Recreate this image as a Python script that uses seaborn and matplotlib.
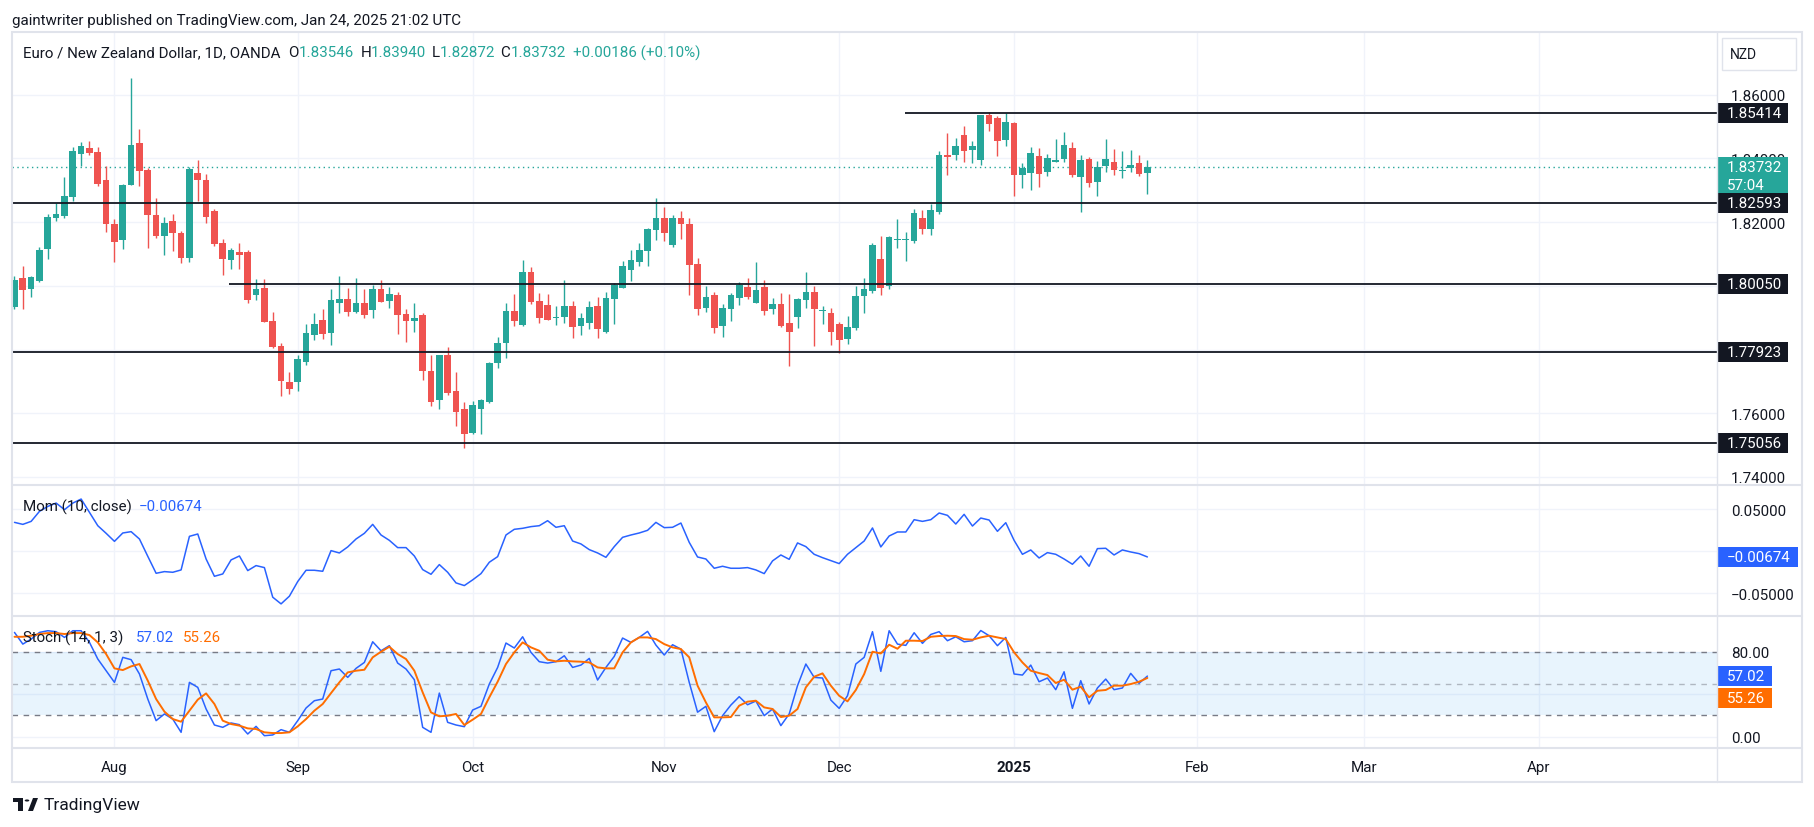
import numpy as np
import pandas as pd
import seaborn as sns
import matplotlib.pyplot as plt
import matplotlib.transforms as mtransforms
from matplotlib.patches import Rectangle, Circle, Polygon
from matplotlib.lines import Line2D

# EUR/NZD daily candles, 16 Jul 2024 -> 24 Jan 2025
opens = [1.7935, 1.8025, 1.7991, 1.8016, 1.8117, 1.8214, 1.8220, 1.8280, 1.8415, 1.8433,
         1.8420, 1.8332, 1.8195, 1.8145, 1.8318, 1.8448, 1.8364, 1.8223, 1.8157, 1.8203,
         1.8166, 1.8088, 1.8354, 1.8332, 1.8235, 1.8134, 1.8082, 1.8106, 1.8106, 1.7972,
         1.7993, 1.7890, 1.7811, 1.7698, 1.7699, 1.7762, 1.7847, 1.7893, 1.7853, 1.7947,
         1.7959, 1.7918, 1.7946, 1.7925, 1.7990, 1.7953, 1.7971, 1.7911, 1.7891, 1.7908,
         1.7733, 1.7642, 1.7783, 1.7670, 1.7613, 1.7539, 1.7614, 1.7636, 1.7759, 1.7821,
         1.7921, 1.7878, 1.8043, 1.7952, 1.7940, 1.7898, 1.7903, 1.7937, 1.7875, 1.7884,
         1.7937, 1.7856, 1.7960, 1.7994, 1.8051, 1.8076, 1.8110, 1.8175, 1.8213, 1.8128,
         1.8213, 1.8194, 1.8068, 1.7931, 1.7971, 1.7875, 1.7928, 1.7963, 1.7996, 1.7947,
         1.7996, 1.7928, 1.7943, 1.7883, 1.7903, 1.7956, 1.7981, 1.7922, 1.7915, 1.7880,
         1.7834, 1.7869, 1.7969, 1.7985, 1.8084, 1.8000, 1.8145, 1.8145, 1.8142, 1.8213,
         1.8179, 1.8232, 1.8411, 1.8411, 1.8474, 1.8426, 1.8395, 1.8536, 1.8527, 1.8458,
         1.8511, 1.8348, 1.8354, 1.8408, 1.8357, 1.8389, 1.8398, 1.8433, 1.8342, 1.8398,
         1.8326, 1.8376, 1.8389, 1.8360, 1.8370, 1.8386, 1.83546]
highs = [1.8031, 1.8062, 1.8032, 1.8122, 1.8225, 1.8260, 1.8342, 1.8436, 1.8452, 1.8455,
         1.8436, 1.8376, 1.8210, 1.8320, 1.8652, 1.8492, 1.8371, 1.8276, 1.8216, 1.8225,
         1.8172, 1.8373, 1.8395, 1.8351, 1.8241, 1.8147, 1.8119, 1.8134, 1.8112, 1.8021,
         1.8021, 1.7918, 1.7820, 1.7729, 1.7784, 1.7880, 1.7915, 1.7927, 1.7990, 1.8031,
         1.7993, 1.8024, 1.7990, 1.8003, 1.8018, 1.7996, 1.7981, 1.7927, 1.7946, 1.7915,
         1.7783, 1.7783, 1.7808, 1.7729, 1.7635, 1.7638, 1.7645, 1.7761, 1.7839, 1.7946,
         1.7974, 1.8081, 1.8059, 1.7977, 1.7974, 1.7937, 1.8018, 1.7952, 1.7915, 1.7952,
         1.7965, 1.7981, 1.8009, 1.8078, 1.8112, 1.8134, 1.8182, 1.8276, 1.8247, 1.8222,
         1.8235, 1.8213, 1.8087, 1.7999, 1.7981, 1.7943, 1.7977, 1.8012, 1.8025, 1.8075,
         1.8018, 1.7962, 1.7977, 1.7975, 1.7962, 1.8043, 1.7999, 1.7937, 1.7930, 1.7886,
         1.7905, 1.7999, 1.8025, 1.8134, 1.8156, 1.8156, 1.8210, 1.8169, 1.8241, 1.8238,
         1.8257, 1.8423, 1.8480, 1.8464, 1.8502, 1.8455, 1.8536, 1.8546, 1.8533, 1.8543,
         1.8514, 1.8386, 1.8436, 1.8433, 1.8414, 1.8461, 1.8483, 1.8452, 1.8411, 1.8404,
         1.8392, 1.8461, 1.8430, 1.8423, 1.8426, 1.8411, 1.83940]
lows = [1.7927, 1.7927, 1.7965, 1.8013, 1.8084, 1.8205, 1.8213, 1.8266, 1.8376, 1.8411,
        1.8314, 1.8169, 1.8075, 1.8116, 1.8317, 1.8313, 1.8119, 1.8150, 1.8097, 1.8109,
        1.8072, 1.8075, 1.8266, 1.8197, 1.8126, 1.8034, 1.8053, 1.8053, 1.7947, 1.7957,
        1.7887, 1.7806, 1.7655, 1.7661, 1.7671, 1.7752, 1.7831, 1.7834, 1.7815, 1.7916,
        1.7906, 1.7916, 1.7900, 1.7900, 1.7950, 1.7931, 1.7850, 1.7825, 1.7856, 1.7705,
        1.7624, 1.7614, 1.7658, 1.7561, 1.7492, 1.7536, 1.7536, 1.7633, 1.7743, 1.7774,
        1.7875, 1.7875, 1.7944, 1.7884, 1.7894, 1.7878, 1.7884, 1.7837, 1.7847, 1.7865,
        1.7837, 1.7853, 1.7881, 1.7994, 1.8016, 1.8063, 1.8063, 1.8144, 1.8141, 1.8122,
        1.8147, 1.7972, 1.7909, 1.7919, 1.7853, 1.7840, 1.7891, 1.7941, 1.7960, 1.7947,
        1.7909, 1.7913, 1.7872, 1.7749, 1.7869, 1.7931, 1.7812, 1.7881, 1.7815, 1.7790,
        1.7818, 1.7862, 1.7916, 1.7978, 1.7972, 1.7991, 1.8120, 1.8079, 1.8135, 1.8164,
        1.8161, 1.8225, 1.8348, 1.8395, 1.8389, 1.8386, 1.8379, 1.8486, 1.8408, 1.8439,
        1.8282, 1.8307, 1.8301, 1.8310, 1.8345, 1.8389, 1.8389, 1.8342, 1.8232, 1.8310,
        1.8282, 1.8357, 1.8348, 1.8339, 1.8357, 1.8345, 1.82872]
closes = [1.8018, 1.7988, 1.8028, 1.8112, 1.8216, 1.8225, 1.8282, 1.8423, 1.8439, 1.8418,
          1.8321, 1.8195, 1.8139, 1.8317, 1.8442, 1.8362, 1.8223, 1.8157, 1.8197, 1.8167,
          1.8088, 1.8367, 1.8333, 1.8217, 1.8132, 1.8085, 1.8112, 1.8098, 1.7957, 1.7990,
          1.7887, 1.7809, 1.7702, 1.7677, 1.7770, 1.7852, 1.7880, 1.7850, 1.7955, 1.7959,
          1.7919, 1.7946, 1.7909, 1.7990, 1.7950, 1.7974, 1.7909, 1.7891, 1.7899, 1.7734,
          1.7636, 1.7783, 1.7664, 1.7605, 1.7536, 1.7626, 1.7641, 1.7758, 1.7820, 1.7921,
          1.7891, 1.8043, 1.7950, 1.7900, 1.7894, 1.7902, 1.7937, 1.7872, 1.7899, 1.7933,
          1.7865, 1.7962, 1.8004, 1.8062, 1.8081, 1.8112, 1.8178, 1.8213, 1.8167, 1.8213,
          1.8194, 1.8066, 1.7928, 1.7965, 1.7869, 1.7930, 1.7971, 1.8004, 1.7966, 1.7987,
          1.7922, 1.7943, 1.7875, 1.7856, 1.7959, 1.7981, 1.7928, 1.7924, 1.7856, 1.7831,
          1.7871, 1.7968, 1.7990, 1.8128, 1.7994, 1.8153, 1.8147, 1.8147, 1.8229, 1.8179,
          1.8238, 1.8411, 1.8404, 1.8439, 1.8423, 1.8439, 1.8536, 1.8509, 1.8455, 1.8514,
          1.8348, 1.8370, 1.8417, 1.8351, 1.8401, 1.8395, 1.8442, 1.8348, 1.8395, 1.8323,
          1.8373, 1.8398, 1.8364, 1.8362, 1.8379, 1.8351, 1.83732]

# Momentum (10, close)
mom_values = [0.0346, 0.0322, 0.0358, 0.0478, 0.0537, 0.0577, 0.0498, 0.0577, 0.0625, 0.0466,
              0.0306, 0.0215, 0.0119, 0.0219, 0.0235, 0.0147, -0.0060, -0.0263, -0.0243, -0.0251,
              -0.0223, 0.0179, 0.0207, -0.0092, -0.0299, -0.0271, -0.0103, -0.0056, -0.0231, -0.0171,
              -0.0195, -0.0549, -0.0629, -0.0537, -0.0362, -0.0227, -0.0227, -0.0239, 0.0008, -0.0020,
              0.0052, 0.0147, 0.0215, 0.0322, 0.0195, 0.0131, 0.0044, 0.0044, -0.0056, -0.0219,
              -0.0275, -0.0159, -0.0251, -0.0378, -0.0410, -0.0342, -0.0267, -0.0131, -0.0064, 0.0195,
              0.0263, 0.0275, 0.0295, 0.0306, 0.0366, 0.0287, 0.0306, 0.0123, 0.0088, 0.0020,
              -0.0020, -0.0072, 0.0056, 0.0167, 0.0195, 0.0219, 0.0251, 0.0346, 0.0283, 0.0287,
              0.0338, 0.0107, -0.0068, -0.0092, -0.0203, -0.0179, -0.0203, -0.0203, -0.0195, -0.0223,
              -0.0267, -0.0115, -0.0044, -0.0096, 0.0100, 0.0056, -0.0036, -0.0076, -0.0111, -0.0147,
              -0.0036, 0.0044, 0.0123, 0.0279, 0.0052, 0.0183, 0.0231, 0.0231, 0.0378, 0.0358,
              0.0378, 0.0458, 0.0430, 0.0326, 0.0442, 0.0302, 0.0398, 0.0374, 0.0239, 0.0342,
              0.0131, -0.0036, 0.0016, -0.0080, -0.0016, -0.0036, -0.0092, -0.0155, -0.0056, -0.0179,
              0.0032, 0.0036, -0.0044, 0.0016, -0.0008, -0.0028, -0.00674]

# Stoch (14, 1, 3): %K blue, %D orange
stoch_k = [98.2, 87.2, 91.9, 98.2, 99.8, 98.9, 93.5, 99.8, 99.8, 88.8,
           73.1, 62.1, 51.1, 74.7, 72.5, 59.0, 35.4, 15.0, 21.3, 16.5,
           4.0, 51.1, 46.4, 26.0, 10.9, 8.7, 12.8, 11.2, 2.4, 9.6,
           0.8, 1.5, 6.5, 4.0, 15.0, 26.9, 33.8, 35.4, 62.1, 63.7,
           55.8, 64.3, 69.9, 89.4, 80.9, 85.7, 69.3, 63.7, 53.6, 8.7,
           4.0, 41.0, 13.4, 10.9, 9.3, 25.0, 28.5, 49.5, 65.2, 88.2,
           83.5, 94.1, 79.4, 70.6, 69.3, 70.6, 76.2, 65.2, 67.4, 73.7,
           53.3, 65.2, 75.6, 92.9, 88.8, 93.5, 99.2, 86.3, 76.9, 86.6,
           82.5, 51.1, 23.0, 28.5, 4.6, 19.7, 29.7, 37.6, 30.0, 33.5,
           19.7, 26.0, 10.3, 21.3, 48.0, 68.4, 55.8, 55.2, 34.4, 26.6,
           38.5, 68.4, 74.7, 98.9, 61.5, 99.8, 87.2, 86.0, 97.9, 87.9,
           96.3, 98.9, 90.4, 94.1, 89.4, 90.4, 100.0, 95.1, 85.7, 93.5,
           59.0, 58.0, 67.4, 51.7, 55.2, 44.2, 61.1, 26.6, 52.7, 30.7,
           45.8, 54.2, 44.2, 45.8, 59.6, 50.2, 57.02]
stoch_d = [94.1, 94.1, 95.1, 96.7, 97.6, 97.6, 96.7, 97.6, 97.6, 95.7,
           88.8, 77.8, 64.3, 62.7, 66.2, 68.4, 52.7, 35.4, 23.5, 16.5,
           14.0, 24.4, 34.8, 40.7, 30.7, 15.0, 11.8, 10.3, 7.7, 7.1,
           4.0, 3.3, 3.3, 4.0, 9.6, 16.5, 24.4, 30.7, 41.0, 51.1,
           60.5, 62.1, 63.0, 74.7, 80.0, 84.7, 77.8, 73.1, 62.1, 41.7,
           22.8, 19.1, 19.7, 21.3, 10.9, 15.9, 21.3, 37.0, 51.7, 68.4,
           79.4, 88.8, 84.1, 80.9, 72.5, 70.9, 71.5, 70.9, 70.6, 69.9,
           65.2, 64.3, 64.3, 79.4, 88.8, 93.5, 93.5, 91.9, 87.2, 84.1,
           82.5, 74.7, 48.0, 32.2, 18.1, 18.1, 18.4, 29.1, 32.9, 33.8,
           27.5, 26.0, 18.4, 19.7, 26.0, 46.4, 56.4, 59.6, 48.0, 38.5,
           33.2, 43.9, 58.9, 80.0, 78.4, 86.6, 82.8, 90.4, 90.4, 90.1,
           94.1, 94.8, 95.1, 94.8, 91.9, 91.3, 93.5, 95.1, 93.5, 91.9,
           79.4, 69.9, 62.1, 59.9, 58.0, 50.5, 53.6, 44.2, 47.0, 37.0,
           43.2, 43.9, 48.0, 48.0, 49.5, 51.7, 55.26]

# horizontal support / resistance lines (price, first bar of the line; None = from the left edge)
level_prices = [1.85414, 1.82593, 1.80050, 1.77923, 1.75056]
level_start = [106.9, None, 25.7, None, None]

# price scale: the 1.78 and 1.80 labels sit under the level boxes, so only the grid shows
price_ticks = [1.74, 1.76, 1.78, 1.80, 1.82, 1.84, 1.86]
price_tick_labels = ['1.74000', '1.76000', '', '', '1.82000', '1.84000', '1.86000']
mom_ticks = [-0.05, 0.0, 0.05]
mom_tick_labels = ['\u22120.05000', '0.00000', '0.05000']
stoch_ticks = [0, 40, 80]
stoch_tick_labels = ['0.00', '', '80.00']
month_labels = ['Aug', 'Sep', 'Oct', 'Nov', 'Dec', '2025', 'Feb', 'Mar', 'Apr']
month_keys = ['2024-08', '2024-09', '2024-10', '2024-11', '2024-12',
              '2025-01', '2025-02', '2025-03', '2025-04']

# trading days (OANDA skips Christmas and New Year), running into the empty future area
holidays = pd.to_datetime(['2024-12-25', '2025-01-01'])
all_days = pd.bdate_range('2024-07-16', '2025-04-30')
all_days = all_days[~all_days.isin(holidays)]
month_pos = [int(np.argmax(all_days.strftime('%Y-%m') == k)) for k in month_keys]

df = pd.DataFrame({'date': all_days[:len(closes)], 'open': opens, 'high': highs,
                   'low': lows, 'close': closes, 'mom': mom_values,
                   'k': stoch_k, 'd': stoch_d})
df['bar'] = np.arange(len(df))

GREEN, RED = '#26a69a', '#ef5350'
BLUE, ORANGE = '#2962ff', '#ff6d00'
TEXT = '#131722'
GRID = '#f0f3fa'
BORDER = '#e0e3eb'
FS = 10.9

sns.set_style('white')
plt.rcParams['font.family'] = ['Roboto', 'DejaVu Sans']

W, H = 1815, 828
fig = plt.figure(figsize=(W / 100, H / 100), dpi=100)


def px_rect(left, top, right, bottom):
    return [left / W, 1 - bottom / H, (right - left) / W, (bottom - top) / H]


PLOT_L, PLOT_R = 12, 1717
AXW = PLOT_R - PLOT_L
BAR_PX, BAR0_PX = 8.33, 14.5
xlim = ((PLOT_L - BAR0_PX) / BAR_PX, (PLOT_R - BAR0_PX) / BAR_PX)

ax_p = fig.add_axes(px_rect(PLOT_L, 33, PLOT_R, 486))
ax_m = fig.add_axes(px_rect(PLOT_L, 486, PLOT_R, 617))
ax_s = fig.add_axes(px_rect(PLOT_L, 617, PLOT_R, 749))
panel_h = {ax_p: 453, ax_m: 131, ax_s: 132}

# candles
up = df['close'] >= df['open']
colors = np.where(up, GREEN, RED)
body_lo = np.minimum(df['open'], df['close'])
body_h = np.maximum(np.abs(df['close'] - df['open']), 0.00025)
ax_p.vlines(df['bar'], df['low'], df['high'], colors=colors, linewidth=1, zorder=3)
ax_p.bar(df['bar'], body_h, bottom=body_lo, width=0.8, color=colors, linewidth=0, zorder=4)

for price, start in zip(level_prices, level_start):
    x0 = xlim[0] if start is None else start
    ax_p.hlines(price, x0, xlim[1], color=TEXT, linewidth=1.3, zorder=5)
ax_p.axhline(closes[-1], color=GREEN, linewidth=1, linestyle=(0, (1, 2.5)), zorder=2)

# momentum
sns.lineplot(data=df, x='bar', y='mom', ax=ax_m, color=BLUE, linewidth=1.1)

# stochastic
ax_s.axhspan(20, 80, color='#2196f3', alpha=0.1, linewidth=0, zorder=1)
for lvl, a in [(80, 1.0), (50, 0.5), (20, 1.0)]:
    ax_s.axhline(lvl, color='#787b86', alpha=a, linewidth=1, linestyle=(0, (4, 4)), zorder=2)
sns.lineplot(data=df, x='bar', y='k', ax=ax_s, color=BLUE, linewidth=1.1)
sns.lineplot(data=df, x='bar', y='d', ax=ax_s, color=ORANGE, linewidth=1.4)

ax_p.set_ylim(1.73746, 1.8797)
ax_m.set_ylim(-0.0774, 0.0793)
ax_s.set_ylim(-10.8, 113.7)

for ax in (ax_p, ax_m, ax_s):
    ax.set_xlim(*xlim)
    ax.set_xlabel('')
    ax.set_ylabel('')
    for sp in ax.spines.values():
        sp.set_visible(False)
    ax.set_xticks(month_pos)
    ax.grid(True, color=GRID, linewidth=1)
    ax.yaxis.tick_right()
    ax.tick_params(axis='y', length=0, pad=10, labelsize=FS, labelcolor=TEXT)
    ax.tick_params(axis='x', length=0)

ax_p.set_yticks(price_ticks)
ax_p.set_yticklabels(price_tick_labels)
ax_m.set_yticks(mom_ticks)
ax_m.set_yticklabels(mom_tick_labels)
ax_s.set_yticks(stoch_ticks)
ax_s.set_yticklabels(stoch_tick_labels)

ax_p.tick_params(axis='x', labelbottom=False)
ax_m.tick_params(axis='x', labelbottom=False)
ax_s.set_xticklabels(month_labels)
ax_s.tick_params(axis='x', pad=9, labelsize=FS, labelcolor=TEXT)
ax_s.get_xticklabels()[5].set_fontweight('bold')


def axis_box(ax, value, lines, face, width=70, above=10, below=10, shift=0):
    y0, y1 = ax.get_ylim()
    per_px = (y1 - y0) / panel_h[ax]
    trans = mtransforms.blended_transform_factory(ax.transAxes, ax.transData)
    centre = value - shift * per_px
    ax.add_patch(Rectangle((1 + 1 / AXW, centre - below * per_px), width / AXW,
                           (above + below) * per_px, transform=trans, facecolor=face,
                           edgecolor='none', clip_on=False, zorder=8))
    for n, (txt, col) in enumerate(lines):
        ax.text(1 + 10 / AXW, centre - n * 18 * per_px, txt, transform=trans, color=col,
                va='center', ha='left', fontsize=FS, zorder=9, clip_on=False)


axis_box(ax_p, closes[-1], [('1.83732', 'white'), ('57:04', 'white')], GREEN, below=29)
for price in level_prices:
    axis_box(ax_p, price, [('%.5f' % price, 'white')], TEXT)
axis_box(ax_m, mom_values[-1], [('\u22120.00674', 'white')], BLUE, width=80)
axis_box(ax_s, stoch_k[-1], [('%.2f' % stoch_k[-1], 'white')], BLUE, width=54)
axis_box(ax_s, stoch_d[-1], [('%.2f' % stoch_d[-1], 'white')], ORANGE, width=54, shift=20)

# frame and panel separators
fig.add_artist(Rectangle((PLOT_L / W, 1 - 783 / H), (1802 - PLOT_L) / W, 750 / H,
                         transform=fig.transFigure, fill=False, edgecolor=BORDER, linewidth=1.5))
for yy in (486, 617, 749):
    fig.add_artist(Line2D([PLOT_L / W, 1802 / W], [1 - yy / H] * 2, transform=fig.transFigure,
                          color=BORDER, linewidth=1.5))
fig.add_artist(Line2D([PLOT_R / W] * 2, [1 - 33 / H, 1 - 783 / H], transform=fig.transFigure,
                      color=BORDER, linewidth=1))

# currency button
fig.add_artist(Rectangle((1722 / W, 1 - 71 / H), 74 / W, 32 / H, transform=fig.transFigure,
                         fill=False, edgecolor=BORDER, linewidth=1))
fig.text(1730 / W, 1 - 55 / H, 'NZD', fontsize=10, color=TEXT, va='center')


def ftext(x, y, s, **kw):
    kw.setdefault('fontsize', FS)
    kw.setdefault('color', TEXT)
    fig.text(x / W, 1 - y / H, s, va='center', ha='left', **kw)


ftext(12, 21, 'gaintwriter published on TradingView.com, Jan 24, 2025 21:02 UTC')
ftext(23, 53, 'Euro / New Zealand Dollar, 1D, OANDA')
for x, s, col in [(288, 'O', TEXT), (299, '1.83546', GREEN), (361, 'H', TEXT),
                  (371, '1.83940', GREEN), (432, 'L', TEXT), (440, '1.82872', GREEN),
                  (500, 'C', TEXT), (511, '1.83732', GREEN), (573, '+0.00186 (+0.10%)', GREEN)]:
    ftext(x, 53, s, color=col)

ftext(23, 507, 'Mom (10, close)')
ftext(139, 507, '\u22120.00674', color=BLUE)
ftext(23, 638, 'Stoch (14, 1, 3)')
ftext(136, 638, '57.02', color=BLUE)
ftext(183, 638, '55.26', color=ORANGE)

# TradingView logo
for patch in [Rectangle((13 / W, 1 - 803 / H), 10 / W, 4 / H),
              Rectangle((18 / W, 1 - 812 / H), 5 / W, 13 / H),
              Circle((27 / W, 1 - 801.5 / H), 2.3 / W),
              Polygon([(28 / W, 1 - 812 / H), (33 / W, 1 - 799 / H),
                       (38 / W, 1 - 799 / H), (33 / W, 1 - 812 / H)])]:
    patch.set_transform(fig.transFigure)
    patch.set_facecolor(TEXT)
    patch.set_edgecolor('none')
    fig.add_artist(patch)
ftext(44, 806, 'TradingView', fontsize=12.5)

fig.savefig('out.png', dpi=100, facecolor='white')
